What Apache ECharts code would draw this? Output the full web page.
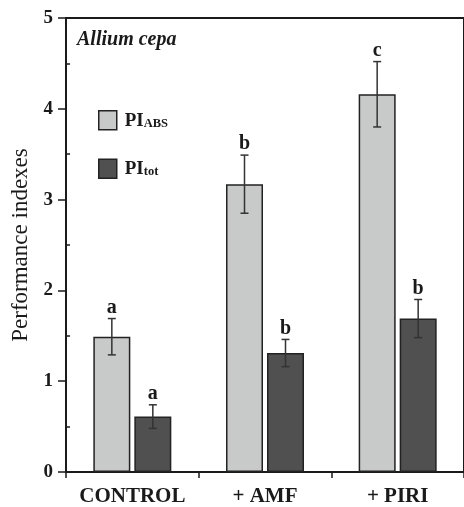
<!DOCTYPE html>
<html>
<head>
<meta charset="utf-8">
<script src="https://cdn.jsdelivr.net/npm/echarts@6/dist/echarts.min.js"></script>
<style>
  html, body { margin: 0; padding: 0; background: #fff; }
  #chart { width: 464px; height: 507px; }
</style>
</head>
<body>
<div id="chart"></div>
<script>
const categories = ["CONTROL", "+ AMF", "+ PIRI"];
const piAbs = [1.49, 3.17, 4.16];
const piAbsErr = [0.2, 0.32, 0.36];
const piTot = [0.61, 1.31, 1.69];
const piTotErr = [0.13, 0.15, 0.21];
const absLetters = ["a", "b", "c"];
const totLetters = ["a", "b", "b"];
const yTicks = [0, 1, 2, 3, 4, 5];
const yMinorTicks = [0.5, 1.5, 2.5, 3.5, 4.5];

const SERIF = "Liberation Serif";
const INK = "#1a1a1a";
const BAR_W = 37;
const BAR_GAP = 4;
const offset = (BAR_W + BAR_GAP) / 2;

// error bar + significance letter, drawn from the data through the axes
function errorSeries(values, errs, letters, dx) {
  return {
    type: "custom",
    data: values.map((v, i) => [i, v, errs[i]]),
    encode: { x: 0, y: 1 },
    z: 10,
    silent: true,
    renderItem(params, api) {
      const i = api.value(0);
      const v = api.value(1);
      const e = api.value(2);
      const hi = api.coord([i, v + e]);
      const lo = api.coord([i, v - e]);
      const x = hi[0] + dx;
      const style = { stroke: "#333", lineWidth: 1.5 };
      return {
        type: "group",
        children: [
          { type: "line", shape: { x1: x, y1: hi[1], x2: x, y2: lo[1] }, style },
          { type: "line", shape: { x1: x - 4, y1: hi[1], x2: x + 4, y2: hi[1] }, style },
          { type: "line", shape: { x1: x - 4, y1: lo[1], x2: x + 4, y2: lo[1] }, style },
          {
            type: "text",
            x: x,
            y: hi[1] - 1,
            style: {
              text: letters[params.dataIndex],
              fill: INK,
              font: "bold 20px " + SERIF,
              textAlign: "center",
              textVerticalAlign: "bottom",
            },
          },
        ],
      };
    },
  };
}

const chart = echarts.init(document.getElementById("chart"));

chart.setOption({
  animation: false,
  backgroundColor: "#fff",
  title: {
    text: "Allium cepa",
    left: 77,
    top: 30,
    padding: 0,
    textStyle: {
      fontFamily: SERIF,
      fontStyle: "italic",
      fontWeight: "bold",
      fontSize: 20,
      color: INK,
    },
  },
  legend: {
    data: ["PI_ABS", "PI_tot"],
    orient: "vertical",
    left: 98,
    top: 110,
    padding: 0,
    itemWidth: 18,
    itemHeight: 19,
    itemGap: 28,
    icon: "rect",
    selectedMode: false,
    itemStyle: { borderColor: "#222", borderWidth: 1.5 },
    formatter: (name) => "{m|PI}{s|" + name.split("_")[1] + "}",
    textStyle: {
      color: INK,
      rich: {
        m: { fontFamily: SERIF, fontWeight: "bold", fontSize: 19, lineHeight: 20, verticalAlign: "bottom", padding: [0, 0, 0, 3] },
        s: { fontFamily: SERIF, fontWeight: "bold", fontSize: 12.5, lineHeight: 10, verticalAlign: "bottom" },
      },
    },
  },
  grid: {
    left: 66,
    top: 18,
    width: 403,
    height: 455,
    show: true,
    borderColor: INK,
    borderWidth: 2,
  },
  xAxis: {
    type: "category",
    data: categories,
    axisLine: { lineStyle: { color: INK, width: 2 } },
    axisTick: { show: true, length: 6, lineStyle: { color: INK, width: 1.5 } },
    axisLabel: {
      interval: 0,
      hideOverlap: false,
      margin: 14,
      fontFamily: SERIF,
      fontWeight: "bold",
      fontSize: 21,
      color: INK,
    },
  },
  yAxis: [
    {
      type: "value",
      min: 0,
      max: 5,
      interval: 1,
      name: "Performance indexes",
      nameLocation: "middle",
      nameGap: 31,
      nameTextStyle: { fontFamily: SERIF, fontSize: 23, color: INK },
      axisLine: { show: true, lineStyle: { color: INK, width: 2 } },
      axisTick: { show: true, length: 8, lineStyle: { color: INK, width: 1.5 } },
      axisLabel: {
        margin: 13,
        fontFamily: SERIF,
        fontWeight: "bold",
        fontSize: 19,
        color: INK,
        customValues: yTicks,
      },
      splitLine: { show: false },
    },
    {
      type: "value",
      min: 0,
      max: 5,
      position: "left",
      axisLine: { show: false },
      axisLabel: { show: false },
      axisTick: {
        show: true,
        inside: true,
        length: 4,
        customValues: yMinorTicks,
        lineStyle: { color: INK, width: 1.5 },
      },
      splitLine: { show: false },
    },
  ],
  series: [
    {
      name: "PI_ABS",
      type: "bar",
      data: piAbs,
      barWidth: BAR_W,
      barGap: (BAR_GAP / BAR_W * 100).toFixed(1) + "%",
      itemStyle: { color: "#c8c9c9", borderColor: "#222", borderWidth: 1.5 },
    },
    {
      name: "PI_tot",
      type: "bar",
      data: piTot,
      barWidth: BAR_W,
      itemStyle: { color: "#505050", borderColor: "#222", borderWidth: 1.5 },
    },
    errorSeries(piAbs, piAbsErr, absLetters, -offset),
    errorSeries(piTot, piTotErr, totLetters, offset),
  ],
});
</script>
</body>
</html>
